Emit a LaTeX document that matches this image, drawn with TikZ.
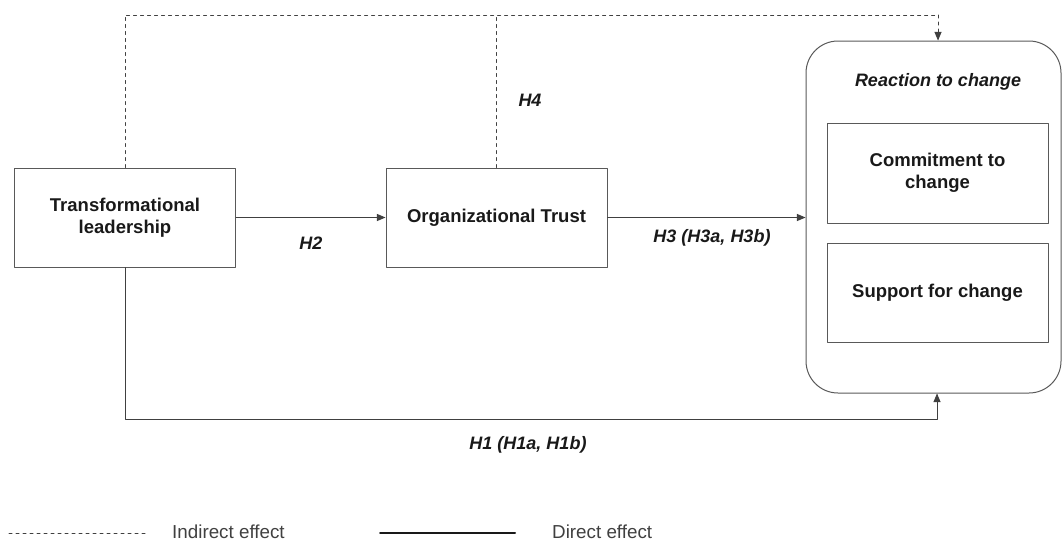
\documentclass[tikz,border=0pt]{standalone}
\usepackage{fontspec}
\setmainfont{Liberation Sans}
\usetikzlibrary{arrows}
\definecolor{uququq}{rgb}{0.25,0.25,0.25}
\definecolor{sqsqsq}{rgb}{0.35,0.35,0.35}
\definecolor{qqqqqq}{rgb}{0.1,0.1,0.1}
\tikzset{
  bx/.style={draw=sqsqsq,line width=1pt,align=center,inner sep=0pt,text=qqqqqq,
    font=\bfseries\fontsize{18.5}{22}\selectfont},
  hyp/.style={inner sep=0pt,text=qqqqqq,font=\bfseries\itshape\fontsize{18}{22}\selectfont},
  legtext/.style={inner sep=0pt,anchor=base west,text=uququq,font=\fontsize{18.8}{22}\selectfont},
  indirect/.style={color=uququq,line width=1pt,dash pattern=on 3pt off 4pt},
  direct/.style={color=uququq,line width=1pt}
}
\begin{document}
\begin{tikzpicture}[line cap=round,line join=round,>=triangle 45,x=1pt,y=-1pt]
\useasboundingbox (0,0) rectangle (1062,541);
\node[bx,minimum width=221pt,minimum height=99pt] (tl) at (125,217.5) {Transformational\\leadership};
\node[bx,minimum width=221pt,minimum height=99pt] (ot) at (496.5,217.5) {Organizational Trust};
\node[draw=sqsqsq,line width=1pt,rounded corners=32pt,minimum width=255pt,minimum height=352pt] (rc) at (933.5,217) {};
\node[hyp] (rct) at (938,82) {Reaction to change};
\node[bx,minimum width=221pt,minimum height=100pt] (cm) at (937.5,173) {Commitment to\\change};
\node[bx,minimum width=221pt,minimum height=99pt] (sp) at (937.5,292.5) {Support for change};
% indirect paths
\coordinate (topl) at (125,15);
\coordinate (topr) at (938,15);
\draw[indirect] (tl.north) -- (topl) -- (topr);
\draw[indirect,->] (topr) -- (topr |- rc.north);
\draw[indirect] (ot.north) -- (ot.north |- topl);
% direct paths
\coordinate (botr) at (937,419);
\draw[direct,->] (tl.east) -- (ot.west);
\draw[direct,->] (ot.east) -- (ot.east -| rc.west);
\draw[direct,->] (tl.south) |- (botr) -- (botr |- rc.south);
\begin{scope}
\node[hyp] (h2) at (311,243) {H2};
\node[hyp] (h3) at (712,238) {H3 (H3a, H3b)};
\node[hyp] (h4) at (530,100) {H4};
\node[hyp] (h1) at (528,445) {H1 (H1a, H1b)};
\end{scope}
% legend
\coordinate (ind1) at (9,533);
\coordinate (ind2) at (147,533);
\coordinate (dir1) at (380,533);
\coordinate (dir2) at (515,533);
\draw[indirect] (ind1) -- (ind2);
\draw[color=qqqqqq,line width=2pt] (dir1) -- (dir2);
\node[legtext] (indl) at (172,538.5) {Indirect effect};
\node[legtext] (dirl) at (552,538.5) {Direct effect};
\end{tikzpicture}
\end{document}
